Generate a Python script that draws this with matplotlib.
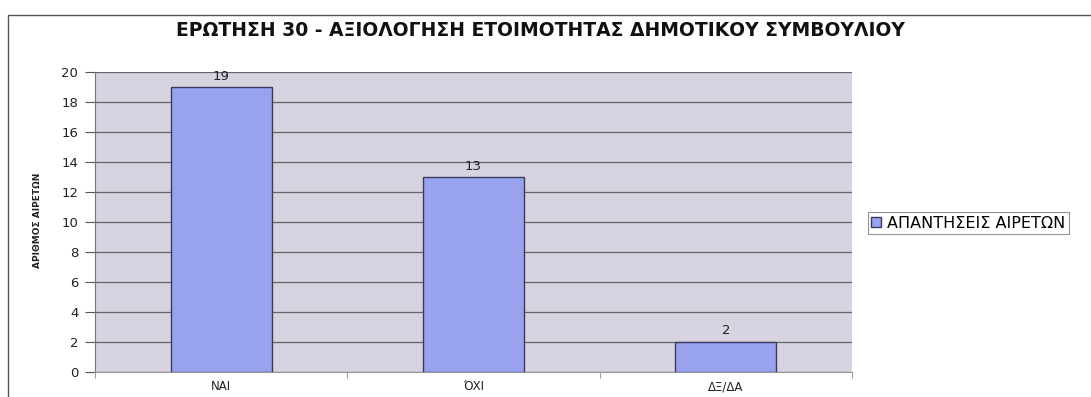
import matplotlib.pyplot as plt
import matplotlib.patches as patches
import numpy as np

plt.rcParams['font.family'] = ['DejaVu Sans']

categories = ['ΝΑΙ', 'ΌΧΙ', 'ΔΞ/ΔΑ']
values = [19, 13, 2]
series_label = 'ΑΠΑΝΤΗΣΕΙΣ ΑΙΡΕΤΩΝ'
title = 'ΕΡΩΤΗΣΗ 30 - ΑΞΙΟΛΟΓΗΣΗ ΕΤΟΙΜΟΤΗΤΑΣ ΔΗΜΟΤΙΚΟΥ ΣΥΜΒΟΥΛΙΟΥ'
ylabel = 'ΑΡΙΘΜΟΣ ΑΙΡΕΤΩΝ'

W, H = 1091, 397
fig = plt.figure(figsize=(W / 100, H / 100), dpi=100)
fig.patch.set_facecolor('white')

# outer chart border (cut off at right and bottom)
fig.add_artist(patches.Rectangle((8 / W, -0.05), 1.1, 1 - 15 / H + 0.05,
                                 transform=fig.transFigure, fill=False,
                                 edgecolor='#555555', linewidth=1.0))

ax = fig.add_axes([95 / W, 1 - 372 / H, (852 - 95) / W, (372 - 72) / H])
ax.set_facecolor('#d7d3e1')

x = np.arange(len(categories))
bars = ax.bar(x, values, width=0.4, color='#98a2ee', edgecolor='#3a3a5a',
              linewidth=1.0, label=series_label, zorder=3)
for xi, v in zip(x, values):
    ax.text(xi, v + 0.3, str(v), ha='center', va='bottom', fontsize=9.5,
            color='#222222')

ax.set_xlim(-0.5, len(categories) - 0.5)
ax.set_ylim(0, 20)
ax.set_yticks(range(0, 21, 2))
ax.yaxis.grid(True, color='#666666', linewidth=0.9, zorder=1)
ax.set_axisbelow(True)

ax.set_xticks(x)
ax.set_xticklabels(categories, fontsize=8.5, color='#222222')
ax.set_xticks(np.arange(-0.5, len(categories), 1.0), minor=True)
ax.tick_params(axis='x', which='major', length=0, pad=6)
ax.tick_params(axis='x', which='minor', length=4, color='#888888')
ax.tick_params(axis='y', length=7, color='#555555', labelsize=9.5,
               labelcolor='#222222', pad=5)

for side in ['top', 'right']:
    ax.spines[side].set_visible(False)
ax.spines['left'].set_color('#777777')
ax.spines['bottom'].set_color('#999999')

fig.text(540 / W, 1 - 31 / H, title, ha='center', va='center',
         fontsize=13.5, fontweight='bold', color='#111111')
fig.text(37 / W, 1 - 220 / H, ylabel, ha='center', va='center',
         rotation=90, fontsize=6.5, fontweight='bold', color='#222222')

leg = fig.legend(handles=[bars], labels=[series_label], loc='center left',
                 bbox_to_anchor=(868 / W, 1 - 223 / H), fontsize=11.5,
                 frameon=True, fancybox=False, handlelength=0.6,
                 handleheight=0.6, handletextpad=0.4, borderpad=0.2,
                 borderaxespad=0)
leg.get_frame().set_edgecolor('#777777')
leg.get_frame().set_linewidth(0.8)

fig.savefig('out.png', dpi=100)
